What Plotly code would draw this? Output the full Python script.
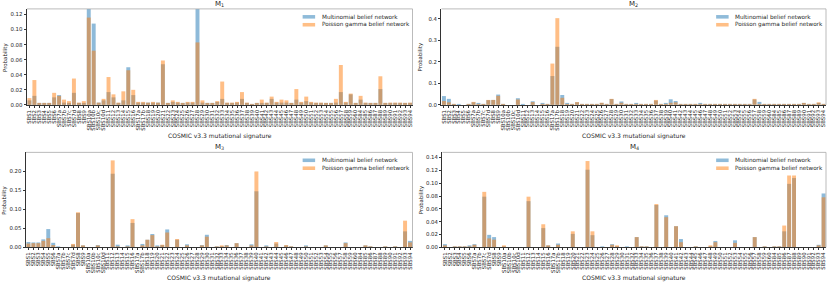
import plotly.graph_objects as go
from plotly.subplots import make_subplots

labels = ["SBS1","SBS2","SBS3","SBS4","SBS5","SBS6","SBS7a","SBS7b","SBS7c","SBS7d",
          "SBS8","SBS9","SBS10a","SBS10b","SBS10c","SBS10d","SBS11","SBS12","SBS13","SBS14",
          "SBS15","SBS16","SBS17a","SBS17b","SBS18","SBS19","SBS20","SBS21","SBS22","SBS23",
          "SBS24","SBS25","SBS26","SBS27","SBS28","SBS29","SBS30","SBS31","SBS32","SBS33",
          "SBS34","SBS35","SBS36","SBS37","SBS38","SBS39","SBS40","SBS41","SBS42","SBS43",
          "SBS44","SBS45","SBS46","SBS47","SBS48","SBS49","SBS50","SBS51","SBS52","SBS53",
          "SBS54","SBS55","SBS56","SBS57","SBS58","SBS59","SBS60","SBS84","SBS85","SBS86",
          "SBS87","SBS88","SBS89","SBS90","SBS91","SBS92","SBS93","SBS94"]

m1_multinomial = [0.006,0.012,0.002,0.002,0.002,0.010,0.013,0.003,0.002,0.016,
                  0.002,0.002,0.140,0.108,0.003,0.006,0.017,0.010,0.002,0.006,
                  0.050,0.013,0.003,0.003,0.003,0.003,0.003,0.054,0.002,0.004,
                  0.003,0.002,0.003,0.003,0.145,0.003,0.002,0.002,0.004,0.008,
                  0.002,0.002,0.003,0.008,0.002,0.001,0.002,0.002,0.002,0.008,
                  0.003,0.003,0.003,0.002,0.007,0.003,0.005,0.003,0.002,0.002,
                  0.002,0.002,0.003,0.017,0.003,0.014,0.002,0.007,0.002,0.002,
                  0.002,0.021,0.002,0.002,0.002,0.002,0.002,0.002]
m1_poisson_gamma = [0.009,0.033,0.002,0.002,0.002,0.016,0.012,0.007,0.005,0.035,
                    0.003,0.005,0.116,0.072,0.003,0.008,0.037,0.014,0.003,0.018,
                    0.046,0.020,0.004,0.004,0.003,0.004,0.003,0.059,0.002,0.006,
                    0.004,0.002,0.004,0.004,0.083,0.006,0.002,0.002,0.005,0.031,
                    0.003,0.003,0.004,0.017,0.003,0.001,0.002,0.007,0.003,0.011,
                    0.004,0.007,0.006,0.002,0.021,0.004,0.011,0.004,0.003,0.003,
                    0.002,0.002,0.008,0.053,0.004,0.015,0.002,0.012,0.003,0.002,
                    0.002,0.038,0.002,0.003,0.003,0.003,0.002,0.003]

m2_multinomial = [0.041,0.028,0.002,0.001,0.000,0.004,0.012,0.005,0.004,0.022,
                  0.023,0.048,0.004,0.000,0.000,0.031,0.001,0.000,0.017,0.000,
                  0.005,0.001,0.134,0.270,0.046,0.005,0.001,0.012,0.001,0.001,
                  0.001,0.001,0.005,0.001,0.027,0.001,0.016,0.001,0.003,0.006,
                  0.001,0.001,0.001,0.020,0.001,0.006,0.026,0.018,0.001,0.001,
                  0.001,0.001,0.005,0.001,0.001,0.001,0.001,0.001,0.001,0.001,
                  0.001,0.001,0.001,0.025,0.014,0.003,0.001,0.001,0.001,0.002,
                  0.001,0.001,0.001,0.005,0.001,0.001,0.006,0.001]
m2_poisson_gamma = [0.018,0.012,0.001,0.000,0.000,0.001,0.014,0.003,0.003,0.023,
                    0.023,0.042,0.002,0.000,0.000,0.025,0.000,0.000,0.013,0.000,
                    0.001,0.001,0.192,0.403,0.033,0.001,0.001,0.013,0.001,0.001,
                    0.001,0.001,0.010,0.001,0.028,0.001,0.010,0.001,0.002,0.003,
                    0.001,0.001,0.001,0.023,0.001,0.001,0.010,0.012,0.001,0.001,
                    0.001,0.001,0.001,0.001,0.001,0.001,0.001,0.001,0.001,0.001,
                    0.001,0.001,0.001,0.028,0.003,0.002,0.001,0.001,0.001,0.001,
                    0.001,0.001,0.001,0.009,0.001,0.001,0.012,0.001]

m3_multinomial = [0.014,0.013,0.013,0.021,0.048,0.012,0.0005,0.000,0.000,0.007,
                  0.090,0.004,0.000,0.000,0.006,0.000,0.000,0.193,0.007,0.000,
                  0.003,0.064,0.000,0.009,0.020,0.035,0.004,0.006,0.047,0.000,
                  0.020,0.000,0.008,0.000,0.000,0.006,0.033,0.000,0.001,0.002,
                  0.006,0.000,0.011,0.000,0.000,0.008,0.147,0.000,0.003,0.000,
                  0.010,0.000,0.004,0.001,0.000,0.000,0.003,0.000,0.000,0.000,
                  0.003,0.000,0.000,0.000,0.013,0.000,0.000,0.000,0.004,0.002,
                  0.000,0.000,0.002,0.000,0.001,0.000,0.042,0.017]
m3_poisson_gamma = [0.010,0.011,0.011,0.017,0.024,0.006,0.000,0.000,0.000,0.009,
                    0.092,0.003,0.000,0.000,0.003,0.000,0.000,0.228,0.001,0.000,
                    0.002,0.074,0.000,0.005,0.020,0.032,0.001,0.007,0.039,0.000,
                    0.022,0.000,0.005,0.000,0.000,0.004,0.028,0.000,0.001,0.004,
                    0.004,0.000,0.011,0.000,0.000,0.003,0.199,0.000,0.002,0.000,
                    0.014,0.000,0.006,0.001,0.000,0.000,0.001,0.000,0.000,0.000,
                    0.004,0.000,0.000,0.000,0.011,0.000,0.000,0.000,0.005,0.002,
                    0.000,0.000,0.001,0.000,0.002,0.000,0.070,0.013]

m4_multinomial = [0.005,0.000,0.001,0.001,0.001,0.002,0.005,0.000,0.079,0.0195,
                  0.016,0.000,0.001,0.000,0.000,0.000,0.000,0.072,0.000,0.000,
                  0.030,0.002,0.000,0.006,0.000,0.000,0.021,0.000,0.000,0.121,
                  0.019,0.000,0.001,0.000,0.005,0.001,0.000,0.001,0.000,0.016,
                  0.001,0.001,0.000,0.066,0.000,0.050,0.000,0.033,0.013,0.000,
                  0.000,0.001,0.000,0.000,0.001,0.010,0.000,0.000,0.000,0.011,
                  0.000,0.000,0.000,0.016,0.000,0.001,0.000,0.001,0.001,0.025,
                  0.099,0.108,0.000,0.000,0.000,0.000,0.004,0.084]
m4_poisson_gamma = [0.003,0.000,0.001,0.001,0.001,0.001,0.004,0.000,0.0865,0.014,
                    0.012,0.000,0.002,0.000,0.000,0.000,0.000,0.079,0.000,0.000,
                    0.036,0.002,0.000,0.004,0.000,0.000,0.025,0.000,0.000,0.1345,
                    0.025,0.000,0.000,0.000,0.004,0.002,0.000,0.000,0.000,0.016,
                    0.001,0.001,0.000,0.0675,0.000,0.047,0.000,0.033,0.008,0.000,
                    0.000,0.001,0.000,0.000,0.003,0.008,0.000,0.000,0.000,0.007,
                    0.000,0.000,0.000,0.016,0.000,0.001,0.000,0.001,0.001,0.034,
                    0.112,0.112,0.000,0.000,0.000,0.000,0.002,0.078]

panel_titles = ["M<sub>1</sub>", "M<sub>2</sub>", "M<sub>3</sub>", "M<sub>4</sub>"]
series_names = ["Multinomial belief network", "Poisson gamma belief network"]
y_ticks = [[0.00, 0.02, 0.04, 0.06, 0.08, 0.10, 0.12],
           [0.0, 0.1, 0.2, 0.3, 0.4],
           [0.00, 0.05, 0.10, 0.15, 0.20],
           [0.00, 0.02, 0.04, 0.06, 0.08, 0.10, 0.12, 0.14]]
y_tick_fmt = [".2f", ".1f", ".2f", ".2f"]
y_max = [0.1275, 0.446, 0.249, 0.148]

W, H = 830, 285
BLUE = "#1f77b4"
ORANGE = "#ff7f0e"
FONT = "DejaVu Sans"
TXT = "#262626"

# pixel boxes of the four axes: (left, right, top, bottom)
boxes = [(26, 412, 9, 106), (441, 826, 9, 106), (25, 412, 154, 250), (442, 826, 154, 250)]


def px(x):
    return x / W


def py(y):
    return 1 - y / H


fig = make_subplots(rows=2, cols=2)
data = [(m1_multinomial, m1_poisson_gamma), (m2_multinomial, m2_poisson_gamma),
        (m3_multinomial, m3_poisson_gamma), (m4_multinomial, m4_poisson_gamma)]
rc = [(1, 1), (1, 2), (2, 1), (2, 2)]

for i, ((mb, pg), (r, c)) in enumerate(zip(data, rc)):
    fig.add_trace(go.Bar(x=labels, y=mb, name=series_names[0], marker_color=BLUE,
                         opacity=0.5, width=0.8, marker_line_width=0, showlegend=False),
                  row=r, col=c)
    fig.add_trace(go.Bar(x=labels, y=pg, name=series_names[1], marker_color=ORANGE,
                         opacity=0.5, width=0.8, marker_line_width=0, showlegend=False),
                  row=r, col=c)

shapes = []
annotations = []
for i, (l, rr, t, b) in enumerate(boxes):
    sfx = "" if i == 0 else str(i + 1)
    xd = [px(l), px(rr)]
    yd = [py(b), py(t)]
    fig.layout["xaxis" + sfx].update(
        domain=xd, range=[-0.5, len(labels) - 0.5], type="category",
        tickmode="array", tickvals=labels, ticktext=labels, tickangle=-90,
        tickfont=dict(family=FONT, size=5.4, color=TXT),
        ticks="outside", ticklen=2, tickwidth=0.6, tickcolor="#333",
        showline=True, linecolor="#333", linewidth=0.8, showgrid=False, zeroline=False)
    fig.layout["yaxis" + sfx].update(
        domain=yd, range=[0, y_max[i]], tickmode="array", tickvals=y_ticks[i],
        tickformat=y_tick_fmt[i], tickfont=dict(family=FONT, size=5.4, color=TXT),
        ticks="outside", ticklen=2.5, tickwidth=0.6, tickcolor="#333",
        showline=True, linecolor="#333", linewidth=0.8, showgrid=False, zeroline=False)
    # top and right spines
    shapes.append(dict(type="line", xref="paper", yref="paper", x0=xd[0], x1=xd[1],
                       y0=yd[1], y1=yd[1], line=dict(color="#aaaaaa", width=0.8)))
    shapes.append(dict(type="line", xref="paper", yref="paper", x0=xd[1], x1=xd[1],
                       y0=yd[0], y1=yd[1], line=dict(color="#aaaaaa", width=0.8)))
    cx = (l + rr) / 2
    annotations.append(dict(text=panel_titles[i], x=px(cx), y=py(t - 5),
                            xref="paper", yref="paper", showarrow=False,
                            font=dict(family=FONT, size=7, color=TXT),
                            xanchor="center", yanchor="middle"))
    annotations.append(dict(text="COSMIC v3.3 mutational signature", x=px(cx),
                            y=py(b + 31), xref="paper", yref="paper", showarrow=False,
                            font=dict(family=FONT, size=6, color=TXT),
                            xanchor="center", yanchor="middle"))
    annotations.append(dict(text="Probability", x=px(l - 21), y=py((t + b) / 2),
                            xref="paper", yref="paper", showarrow=False, textangle=-90,
                            font=dict(family=FONT, size=5.4, color=TXT),
                            xanchor="center", yanchor="middle"))
    lx = rr - 110
    for j, (nm, col) in enumerate(zip(series_names, [BLUE, ORANGE])):
        yc = t + 8 + j * 8
        shapes.append(dict(type="rect", xref="paper", yref="paper",
                           x0=px(lx), x1=px(lx + 12.5),
                           y0=py(yc + 1.8), y1=py(yc - 1.8),
                           fillcolor=col, opacity=0.5, line=dict(width=0)))
        annotations.append(dict(text=nm, x=px(lx + 17), y=py(yc),
                                xref="paper", yref="paper", showarrow=False,
                                font=dict(family=FONT, size=5.7, color=TXT),
                                xanchor="left", yanchor="middle"))

fig.update_layout(width=W, height=H, margin=dict(l=0, r=0, t=0, b=0),
                  barmode="overlay", plot_bgcolor="white", paper_bgcolor="white",
                  shapes=shapes, annotations=annotations, showlegend=False,
                  font=dict(family=FONT, color=TXT))
fig.write_html("out.html", config={"displayModeBar": False},
               post_script="document.body.style.margin='0px';"
                           "document.body.style.overflow='hidden';")
